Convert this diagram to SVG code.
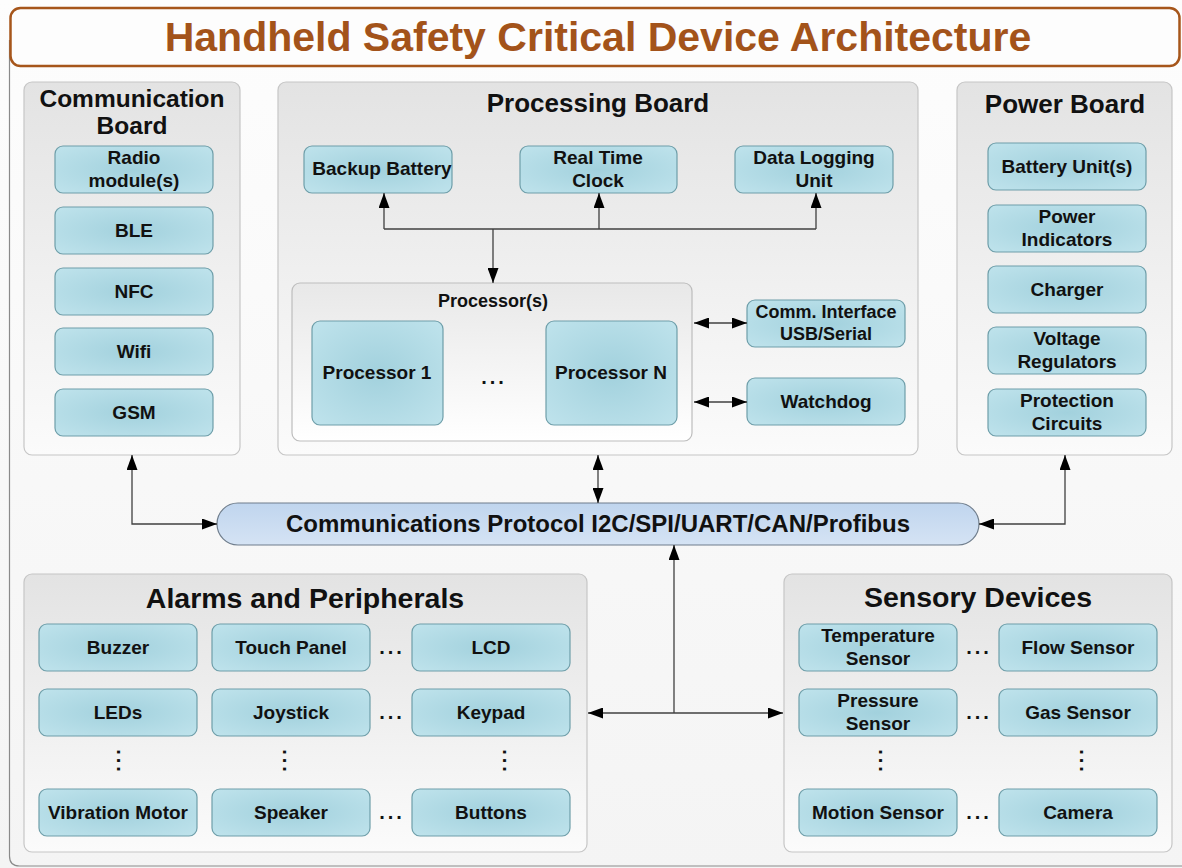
<svg xmlns="http://www.w3.org/2000/svg" width="1182" height="868" viewBox="0 0 1182 868">
<defs>
<linearGradient id="bg" x1="0" y1="0" x2="0" y2="1"><stop offset="0" stop-color="#fdfdfd"/><stop offset="1" stop-color="#f4f4f4"/></linearGradient>
<linearGradient id="panel" x1="0" y1="0" x2="0" y2="1"><stop offset="0" stop-color="#e3e3e3"/><stop offset="1" stop-color="#fbfbfb"/></linearGradient>
<linearGradient id="inner" x1="0" y1="0" x2="0" y2="1"><stop offset="0" stop-color="#e8e8e8"/><stop offset="1" stop-color="#ffffff"/></linearGradient>
<radialGradient id="item" cx="0.5" cy="0.5" r="0.7"><stop offset="0" stop-color="#a2d1dd"/><stop offset="1" stop-color="#bfe3ec"/></radialGradient>
<linearGradient id="pill" x1="0" y1="0" x2="0" y2="1"><stop offset="0" stop-color="#c0d5ee"/><stop offset="1" stop-color="#d5e3f4"/></linearGradient>
<marker id="ah" viewBox="0 0 15 11" refX="15" refY="5.5" markerWidth="15" markerHeight="11" markerUnits="userSpaceOnUse" orient="auto-start-reverse"><path d="M0,0 L15,5.5 L0,11 z" fill="#000"/></marker>
</defs>
<style>
text{font-family:"Liberation Sans",Arial,sans-serif;font-weight:bold;fill:#111;text-anchor:middle}
.panel{fill:url(#panel);stroke:#c6c6c6;stroke-width:1.2}
.inner{fill:url(#inner);stroke:#bdbdbd;stroke-width:1.2}
.item{fill:url(#item);stroke:#6e9ea9;stroke-width:1.2}
.it{font-size:19px}
.pt{font-size:26px}
.bt{font-size:28.5px}
.dots{font-size:20px;letter-spacing:3px}
.conn{fill:none;stroke:#404040;stroke-width:1.3}
</style>
<rect x="0" y="0" width="1182" height="868" fill="url(#bg)"/>
<path d="M9.5,40 V856 Q9.5,866 19.5,866 H1182" fill="none" stroke="#8a8a8a" stroke-width="1.2"/>
<g id="title">
<rect x="10.5" y="8" width="1169" height="58" rx="10" fill="#fdfdfd" stroke="#a6561b" stroke-width="2.5"/>
<text x="598" y="51" style="font-size:41px;fill:#a3531a">Handheld Safety Critical Device Architecture</text>
</g>

<g id="communication-board">
<rect class="panel" x="24" y="82" width="216" height="373" rx="8"/>
<text x="132" y="107" style="font-size:24.5px">Communication</text>
<text x="132" y="134" style="font-size:24.5px">Board</text>
<rect class="item" x="55" y="146" width="158" height="47" rx="8"/>
<text class="it" x="134" y="164">Radio</text><text class="it" x="134" y="187">module(s)</text>
<rect class="item" x="55" y="207" width="158" height="47" rx="8"/>
<text class="it" x="134" y="237">BLE</text>
<rect class="item" x="55" y="268" width="158" height="47" rx="8"/>
<text class="it" x="134" y="298">NFC</text>
<rect class="item" x="55" y="328" width="158" height="47" rx="8"/>
<text class="it" x="134" y="358">Wifi</text>
<rect class="item" x="55" y="389" width="158" height="47" rx="8"/>
<text class="it" x="134" y="419">GSM</text>
</g>

<g id="processing-board">
<rect class="panel" x="278" y="82" width="640" height="373" rx="8"/>
<text class="pt" x="598" y="112">Processing Board</text>
<rect class="item" x="304" y="146" width="148" height="47" rx="8"/>
<text class="it" x="382" y="175">Backup Battery</text>
<rect class="item" x="520" y="146" width="157" height="47" rx="8"/>
<text class="it" x="598" y="164">Real Time</text><text class="it" x="598" y="187">Clock</text>
<rect class="item" x="735" y="146" width="158" height="47" rx="8"/>
<text class="it" x="814" y="164">Data Logging</text><text class="it" x="814" y="187">Unit</text>
<rect class="inner" x="292" y="283" width="400" height="158" rx="8"/>
<text x="493" y="307" style="font-size:18px">Processor(s)</text>
<rect class="item" x="312" y="321" width="131" height="104" rx="8"/>
<text class="it" x="377" y="379">Processor 1</text>
<text class="dots" x="494" y="384">...</text>
<rect class="item" x="546" y="321" width="131" height="104" rx="8"/>
<text class="it" x="611" y="379">Processor N</text>
<rect class="item" x="747" y="300" width="158" height="47" rx="8"/>
<text class="it" x="826" y="318" style="font-size:18px">Comm. Interface</text><text class="it" x="826" y="340" style="font-size:18px">USB/Serial</text>
<rect class="item" x="747" y="378" width="158" height="47" rx="8"/>
<text class="it" x="826" y="408">Watchdog</text>
</g>

<g id="power-board">
<rect class="panel" x="957" y="82" width="215" height="373" rx="8"/>
<text class="pt" x="1065" y="113">Power Board</text>
<rect class="item" x="988" y="143" width="158" height="47" rx="8"/>
<text class="it" x="1067" y="173">Battery Unit(s)</text>
<rect class="item" x="988" y="205" width="158" height="47" rx="8"/>
<text class="it" x="1067" y="223">Power</text><text class="it" x="1067" y="246">Indicators</text>
<rect class="item" x="988" y="266" width="158" height="47" rx="8"/>
<text class="it" x="1067" y="296">Charger</text>
<rect class="item" x="988" y="327" width="158" height="47" rx="8"/>
<text class="it" x="1067" y="345">Voltage</text><text class="it" x="1067" y="368">Regulators</text>
<rect class="item" x="988" y="389" width="158" height="47" rx="8"/>
<text class="it" x="1067" y="407">Protection</text><text class="it" x="1067" y="430">Circuits</text>
</g>

<g id="comm-protocol">
<rect x="217" y="503" width="762" height="42" rx="21" fill="url(#pill)" stroke="#6f7d8c" stroke-width="1.2"/>
<text x="598" y="532" style="font-size:24px">Communications Protocol I2C/SPI/UART/CAN/Profibus</text>
</g>

<g id="alarms-peripherals">
<rect class="panel" x="24" y="574" width="563" height="278" rx="8"/>
<text class="bt" x="305" y="608">Alarms and Peripherals</text>
<rect class="item" x="39" y="624" width="158" height="47" rx="8"/><text class="it" x="118" y="654">Buzzer</text>
<rect class="item" x="212" y="624" width="158" height="47" rx="8"/><text class="it" x="291" y="654">Touch Panel</text>
<text class="dots" x="392" y="654">...</text>
<rect class="item" x="412" y="624" width="158" height="47" rx="8"/><text class="it" x="491" y="654">LCD</text>
<rect class="item" x="39" y="689" width="158" height="47" rx="8"/><text class="it" x="118" y="719">LEDs</text>
<rect class="item" x="212" y="689" width="158" height="47" rx="8"/><text class="it" x="291" y="719">Joystick</text>
<text class="dots" x="392" y="719">...</text>
<rect class="item" x="412" y="689" width="158" height="47" rx="8"/><text class="it" x="491" y="719">Keypad</text>
<text class="dots" transform="translate(119,762) rotate(90)" y="2">...</text>
<text class="dots" transform="translate(285,762) rotate(90)" y="2">...</text>
<text class="dots" transform="translate(505,762) rotate(90)" y="2">...</text>
<rect class="item" x="39" y="789" width="158" height="47" rx="8"/><text class="it" x="118" y="819">Vibration Motor</text>
<rect class="item" x="212" y="789" width="158" height="47" rx="8"/><text class="it" x="291" y="819">Speaker</text>
<text class="dots" x="392" y="819">...</text>
<rect class="item" x="412" y="789" width="158" height="47" rx="8"/><text class="it" x="491" y="819">Buttons</text>
</g>

<g id="sensory-devices">
<rect class="panel" x="784" y="574" width="388" height="278" rx="8"/>
<text class="bt" x="978" y="607">Sensory Devices</text>
<rect class="item" x="799" y="624" width="158" height="47" rx="8"/>
<text class="it" x="878" y="642">Temperature</text><text class="it" x="878" y="665">Sensor</text>
<text class="dots" x="979" y="654">...</text>
<rect class="item" x="999" y="624" width="158" height="47" rx="8"/><text class="it" x="1078" y="654">Flow Sensor</text>
<rect class="item" x="799" y="689" width="158" height="47" rx="8"/>
<text class="it" x="878" y="707">Pressure</text><text class="it" x="878" y="730">Sensor</text>
<text class="dots" x="979" y="719">...</text>
<rect class="item" x="999" y="689" width="158" height="47" rx="8"/><text class="it" x="1078" y="719">Gas Sensor</text>
<text class="dots" transform="translate(881,762) rotate(90)" y="2">...</text>
<text class="dots" transform="translate(1082,762) rotate(90)" y="2">...</text>
<rect class="item" x="799" y="789" width="158" height="47" rx="8"/><text class="it" x="878" y="819">Motion Sensor</text>
<text class="dots" x="979" y="819">...</text>
<rect class="item" x="999" y="789" width="158" height="47" rx="8"/><text class="it" x="1078" y="819">Camera</text>
</g>

<g id="connectors">
<path class="conn" d="M384,229 V193" marker-end="url(#ah)"/>
<path class="conn" d="M599,229 V193" marker-end="url(#ah)"/>
<path class="conn" d="M816,229 V193" marker-end="url(#ah)"/>
<path class="conn" d="M384,229 H816"/>
<path class="conn" d="M493,229 V283" marker-end="url(#ah)"/>
<path class="conn" d="M694,323 H747" marker-start="url(#ah)" marker-end="url(#ah)"/>
<path class="conn" d="M694,402 H747" marker-start="url(#ah)" marker-end="url(#ah)"/>
<path class="conn" d="M132,455 V524 H217" marker-start="url(#ah)" marker-end="url(#ah)"/>
<path class="conn" d="M598,455 V503" marker-start="url(#ah)" marker-end="url(#ah)"/>
<path class="conn" d="M1065,455 V524 H979" marker-start="url(#ah)" marker-end="url(#ah)"/>
<path class="conn" d="M674,713 V545" marker-end="url(#ah)"/>
<path class="conn" d="M588,713 H783" marker-start="url(#ah)" marker-end="url(#ah)"/>
</g>
</svg>
